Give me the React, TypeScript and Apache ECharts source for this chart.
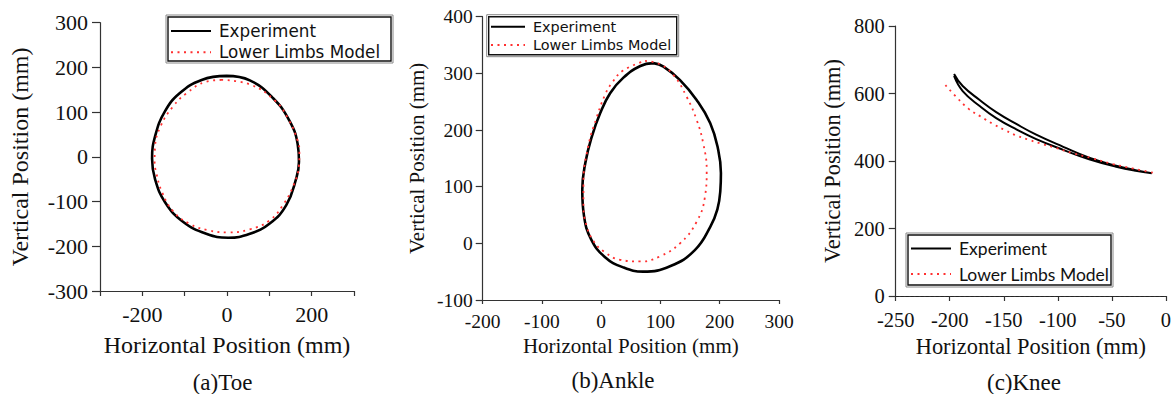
import React, { useEffect, useRef } from "react";
import * as echarts from "echarts";

const seriesNames = ["Experiment", "Lower Limbs Model"];
const captions = ["(a)Toe", "(b)Ankle", "(c)Knee"];
const axisNameX = "Horizontal Position (mm)";
const axisNameY = "Vertical Position (mm)";

const toeExperiment = [
  [-1, 181], [-60, 172], [-112, 142], [-147, 101], [-169, 49], [-177, -4],
  [-170, -50], [-146, -102], [-104, -145], [-49, -172], [3, -181], [54, -172],
  [101, -149], [140, -108], [163, -50], [170, -11], [167, 28], [148, 80],
  [109, 131], [54, 171], [-1, 181],
];
const toeModel = [
  [-13, 172], [-49, 168], [-96, 142], [-128, 112], [-157, 68], [-170, 22],
  [-171, -10], [-167, -36], [-153, -80], [-127, -122], [-88, -150], [-45, -164],
  [2, -169], [54, -162], [101, -142], [132, -108], [157, -64], [170, -19],
  [171, 10], [167, 36], [144, 86], [113, 126], [54, 162], [-13, 172],
];
const ankleExperiment = [
  [88, 318], [105, 312], [133, 288], [161, 253], [184, 212], [197, 167], [202, 124],
  [201, 93], [196, 60], [184, 29], [158, -12], [117, -40], [71, -50], [36, -42],
  [6, -24], [-17, 7], [-29, 48], [-32, 94], [-27, 141], [-16, 188], [-2, 229],
  [15, 265], [37, 292], [66, 313], [88, 318],
];
const ankleModel = [
  [74, 322], [99, 316], [122, 297], [144, 259], [161, 218], [172, 177], [178, 129],
  [175, 82], [161, 38], [133, 0], [99, -23], [66, -32], [32, -29], [5, -15],
  [-13, 4], [-25, 32], [-30, 66], [-30, 106], [-22, 171], [-8, 221], [6, 261],
  [18, 283], [37, 305], [74, 322],
];
const kneeExperiment = [
  [-196, 658], [-188, 622], [-172, 580], [-157, 545], [-138, 509], [-120, 478],
  [-95, 442], [-71, 410], [-46, 386], [-28, 373], [-13, 364], [-28, 371],
  [-46, 383], [-71, 405], [-95, 433], [-120, 465], [-138, 493], [-157, 527],
  [-172, 562], [-188, 607], [-196, 652],
];
const kneeModel = [
  [-204, 625], [-194, 590], [-183, 556], [-171, 531], [-160, 510], [-148, 490],
  [-137, 474], [-126, 462], [-114, 450], [-102, 439], [-86, 423], [-68, 408],
  [-49, 391], [-31, 378], [-10, 364],
];

const xRanges = [
  [-300, 300, 100],
  [-200, 300, 100],
  [-250, 0, 50],
];
const yRanges = [
  [-300, 300, 100],
  [-100, 400, 100],
  [0, 800, 200],
];

const SERIF = "Liberation Serif";

export default function App() {
  const ref = useRef<HTMLDivElement>(null);
  useEffect(() => {
    if (!ref.current) return;
    const chart = echarts.init(ref.current, null, { renderer: "svg" });

    const grids = [
      { left: 100, top: 22.7, width: 254, height: 268.3 },
      { left: 482.7, top: 16.7, width: 296.3, height: 283.3 },
      { left: 895.7, top: 26, width: 271, height: 270 },
    ];
    const tickFont = [22, 19.5, 20.5];
    const nameFont = [24, 21, 22.4];
    const xLabelMargin = [12, 11, 13];
    const yLabelMargin = [12, 10, 11];
    const xNameGap = [42, 34.5, 39.5];
    const yNameGap = [68, 55.6, 52.7];
    const yTickLen = [8, 7, 7];
    const xTickLen = [5, 4, 5];

    const axisLine = { show: true, onZero: false, lineStyle: { color: "#333", width: 1.2 } };

    const xAxis = xRanges.map((r, i) => ({
      type: "value",
      gridIndex: i,
      min: r[0],
      max: r[1],
      interval: r[2],
      name: axisNameX,
      nameLocation: "middle",
      nameGap: xNameGap[i],
      nameTextStyle: { fontFamily: SERIF, fontSize: nameFont[i], color: "#111", fontWeight: "normal" },
      axisLine,
      axisTick: { show: true, inside: false, length: xTickLen[i], lineStyle: { color: "#333", width: 1.2 } },
      axisLabel: {
        fontFamily: SERIF,
        fontSize: tickFont[i],
        color: "#111",
        margin: xLabelMargin[i],
        showMinLabel: true,
        showMaxLabel: true,
        formatter: (v: number) => (i === 0 ? (v % 200 === 0 ? String(v) : "") : String(v)),
      },
      splitLine: { show: false },
    }));
    const yAxis = yRanges.map((r, i) => ({
      type: "value",
      gridIndex: i,
      min: r[0],
      max: r[1],
      interval: r[2],
      name: axisNameY,
      nameLocation: "middle",
      nameGap: yNameGap[i],
      nameTextStyle: { fontFamily: SERIF, fontSize: nameFont[i], color: "#111", fontWeight: "normal" },
      axisLine,
      axisTick: { show: true, inside: false, length: yTickLen[i], lineStyle: { color: "#333", width: 1.2 } },
      axisLabel: {
        fontFamily: SERIF,
        fontSize: tickFont[i],
        color: "#111",
        margin: yLabelMargin[i],
        showMinLabel: true,
        showMaxLabel: true,
      },
      splitLine: { show: false },
    }));

    const expData = [toeExperiment, ankleExperiment, kneeExperiment];
    const modData = [toeModel, ankleModel, kneeModel];
    const expWidth = [2.6, 2.6, 2.0];
    const series: any[] = [];
    for (let i = 0; i < 3; i++) {
      series.push({
        type: "line",
        name: seriesNames[0],
        xAxisIndex: i,
        yAxisIndex: i,
        data: expData[i],
        smooth: 0.45,
        symbol: "none",
        lineStyle: { color: "#000", width: expWidth[i], type: "solid" },
        itemStyle: { color: "#000" },
        z: 3,
      });
      series.push({
        type: "line",
        name: seriesNames[1],
        xAxisIndex: i,
        yAxisIndex: i,
        data: modData[i],
        smooth: 0.45,
        symbol: "none",
        lineStyle: { color: "#ff3030", width: 1.8, type: [2, 4.5] },
        itemStyle: { color: "#ff3030" },
        z: 4,
        markLine:
          i === 2
            ? {
                silent: true,
                symbol: "none",
                label: { show: false },
                lineStyle: { color: "#222", type: [3, 2], width: 1.2 },
                data: [{ yAxis: 0 }],
              }
            : undefined,
      });
    }

    const legendFont = ["DejaVu Sans", "DejaVu Sans", "Lato"];
    const legendSize = [16.8, 14.4, 17.5];
    const legendPos = [
      { left: 170, top: 22.5, itemWidth: 40, itemGap: 4.2 },
      { left: 490, top: 19.5, itemWidth: 34, itemGap: 3.9 },
      { left: 910, top: 239.5, itemWidth: 40, itemGap: 7.5 },
    ];
    const legend = legendPos.map((p, i) => ({
      orient: "vertical",
      left: p.left,
      top: p.top,
      padding: 0,
      itemWidth: p.itemWidth,
      itemHeight: 12,
      itemGap: p.itemGap,
      data: seriesNames,
      selectedMode: false,
      itemStyle: { opacity: 0 },
      textStyle: {
        fontFamily: legendFont[i],
        fontSize: legendSize[i],
        lineHeight: legendSize[i],
        color: "#111",
        padding: [0, 0, 0, 3],
      },
    }));

    const boxes = [
      [166, 15, 227, 48],
      [486.7, 14.7, 192, 42],
      [906, 233, 207, 54],
    ];
    const graphic: any[] = [];
    boxes.forEach((b) => {
      graphic.push({
        type: "rect",
        shape: { x: b[0], y: b[1], width: b[2], height: b[3] },
        style: { fill: "#fff", stroke: "#888", lineWidth: 1 },
        z: 0,
      });
      graphic.push({
        type: "rect",
        shape: { x: b[0] + 2, y: b[1] + 2, width: b[2] - 4, height: b[3] - 4 },
        style: { fill: "none", stroke: "#111", lineWidth: 1.4 },
        z: 1,
      });
    });
    const capPos = [
      [222.5, 382],
      [613, 380],
      [1024, 382],
    ];
    captions.forEach((c, i) => {
      graphic.push({
        type: "text",
        x: capPos[i][0],
        y: capPos[i][1],
        style: {
          text: c,
          fontFamily: SERIF,
          fontSize: 23,
          fill: "#111",
          textAlign: "center",
          textVerticalAlign: "middle",
        },
      });
    });

    chart.setOption({
      animation: false,
      backgroundColor: "#fff",
      textStyle: { fontFamily: SERIF },
      grid: grids,
      xAxis,
      yAxis,
      series,
      legend,
      graphic,
    });
    return () => chart.dispose();
  }, []);
  return (
    <div
      ref={ref}
      style={{ position: "fixed", left: 0, top: 0, width: 1174, height: 394, background: "#fff" }}
    />
  );
}
